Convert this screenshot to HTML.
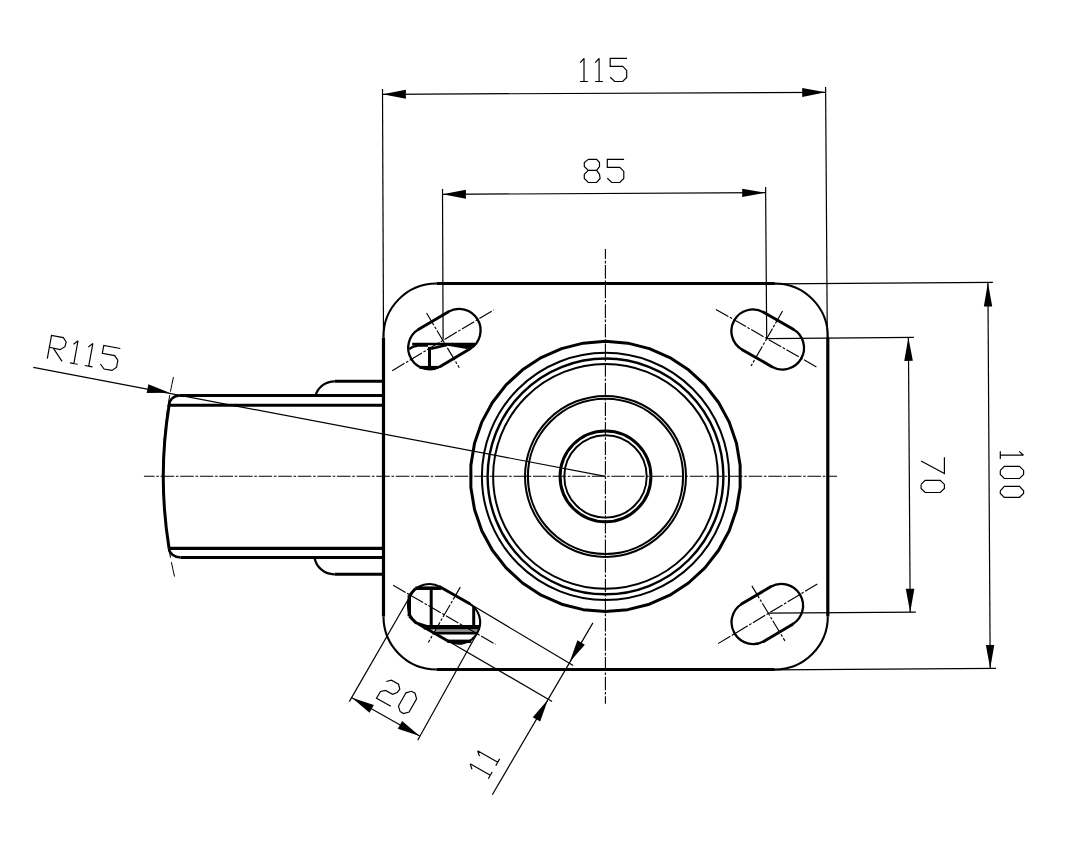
<!DOCTYPE html>
<html><head><meta charset="utf-8"><title>Caster top plate drawing</title>
<style>html,body{margin:0;padding:0;background:#fff;font-family:"Liberation Sans",sans-serif}svg{display:block}</style></head>
<body>
<svg width="1086" height="854" viewBox="0 0 1086 854" fill="none" stroke="#000">
<rect x="0" y="0" width="1086" height="854" fill="#fff" stroke="none"/>
<line x1="436.50" y1="283.50" x2="774.80" y2="283.50" stroke-width="3.2" />
<line x1="436.50" y1="669.50" x2="774.80" y2="669.50" stroke-width="3.2" />
<line x1="383.50" y1="337.50" x2="383.50" y2="616.50" stroke-width="3.2" />
<line x1="827.80" y1="337.50" x2="827.80" y2="616.50" stroke-width="3.2" />
<path d="M383.5,337.5 A53,53 0 0 1 436.5,283.5" stroke-width="2.1" />
<path d="M774.8,283.5 A53,53 0 0 1 827.8,337.5" stroke-width="2.1" />
<path d="M827.8,616.5 A53,53 0 0 1 774.8,669.5" stroke-width="2.1" />
<path d="M436.5,669.5 A53,53 0 0 1 383.5,616.5" stroke-width="2.1" />
<polygon points="740.14,487.56 736.47,509.57 729.22,530.67 718.60,550.29 704.90,567.90 688.48,583.01 669.80,595.22 649.37,604.18 627.74,609.66 605.50,611.50 583.26,609.66 561.63,604.18 541.20,595.22 522.52,583.01 506.10,567.90 492.40,550.29 481.78,530.67 474.53,509.57 470.86,487.56 470.86,465.24 474.53,443.23 481.78,422.13 492.40,402.51 506.10,384.90 522.52,369.79 541.20,357.58 561.63,348.62 583.26,343.14 605.50,341.30 627.74,343.14 649.37,348.62 669.80,357.58 688.48,369.79 704.90,384.90 718.60,402.51 729.22,422.13 736.47,443.23 740.14,465.24" stroke-width="3.0" stroke-linejoin="round"/>
<circle cx="605.5" cy="476.4" r="123.6" stroke-width="2.0"/>
<circle cx="605.5" cy="476.4" r="117.9" stroke-width="2.4"/>
<circle cx="605.5" cy="476.4" r="112.4" stroke-width="2.0"/>
<circle cx="605.5" cy="476.4" r="80.5" stroke-width="2.0"/>
<circle cx="605.5" cy="476.4" r="77.6" stroke-width="2.1"/>
<circle cx="605.5" cy="476.4" r="45.4" stroke-width="3.0"/>
<circle cx="605.5" cy="476.4" r="41.2" stroke-width="1.9"/>
<line x1="143.90" y1="476.30" x2="837.00" y2="476.30" stroke-width="1.1" stroke-dasharray="13.6 1.7 2.6 1.7" stroke-dashoffset="2.9"/>
<line x1="605.40" y1="248.90" x2="605.40" y2="703.70" stroke-width="1.1" stroke-dasharray="13.6 1.7 2.6 1.7" stroke-dashoffset="3.4"/>
<line x1="179.70" y1="395.50" x2="383.50" y2="395.50" stroke-width="3.1" />
<line x1="169.10" y1="405.30" x2="383.50" y2="405.30" stroke-width="3.1" />
<line x1="169.10" y1="548.40" x2="383.50" y2="548.40" stroke-width="3.1" />
<line x1="180.60" y1="557.50" x2="383.50" y2="557.50" stroke-width="3.1" />
<path d="M179.7,395.5 A10.6,9.8 0 0 0 169.1,405.3" stroke-width="2.6" />
<path d="M169.1,548.4 A11.5,9.1 0 0 0 180.6,557.5" stroke-width="2.6" />
<path d="M169.1,405.3 A444,444 0 0 0 169.1,548.4" stroke-width="3.0" />
<path d="M173.47,377 A444,444 0 0 0 174.55,576.6" stroke-width="1.0" stroke-dasharray="15 3.5 12 3.5 132.5 3.5 12 4.5 15"/>
<line x1="334.70" y1="381.30" x2="383.50" y2="381.30" stroke-width="3.1" />
<path d="M334.7,381.3 A20,20 0 0 0 315.5,395.5" stroke-width="2.2" />
<line x1="334.70" y1="574.30" x2="383.50" y2="574.30" stroke-width="3.1" />
<path d="M334.7,574.3 A20,20 0 0 1 314.5,557.5" stroke-width="2.2" />
<line x1="440.67" y1="366.32" x2="470.08" y2="348.86" stroke-width="2.9" stroke-linecap="round"/>
<line x1="418.72" y1="329.34" x2="448.13" y2="311.88" stroke-width="2.9" stroke-linecap="round"/>
<path d="M470.08,348.86 A21.5,21.5 0 0 0 448.13,311.88" stroke-width="2.3" />
<path d="M418.72,329.34 A21.5,21.5 0 0 0 440.67,366.32" stroke-width="2.3" />
<line x1="742.18" y1="349.66" x2="771.85" y2="366.66" stroke-width="2.9" stroke-linecap="round"/>
<line x1="763.55" y1="312.34" x2="793.22" y2="329.34" stroke-width="2.9" stroke-linecap="round"/>
<path d="M771.85,366.66 A21.5,21.5 0 0 0 793.22,329.34" stroke-width="2.3" />
<path d="M763.55,312.34 A21.5,21.5 0 0 0 742.18,349.66" stroke-width="2.3" />
<line x1="764.02" y1="641.18" x2="792.74" y2="624.13" stroke-width="2.9" stroke-linecap="round"/>
<line x1="741.86" y1="603.87" x2="770.58" y2="586.82" stroke-width="2.9" stroke-linecap="round"/>
<path d="M792.74,624.13 A21.7,21.7 0 0 0 770.58,586.82" stroke-width="2.3" />
<path d="M741.86,603.87 A21.7,21.7 0 0 0 764.02,641.18" stroke-width="2.3" />
<line x1="418.84" y1="624.21" x2="447.99" y2="640.91" stroke-width="2.9" stroke-linecap="round"/>
<line x1="440.21" y1="586.89" x2="469.36" y2="603.59" stroke-width="2.9" stroke-linecap="round"/>
<path d="M447.99,640.91 A21.5,21.5 0 0 0 469.36,603.59" stroke-width="2.1" />
<path d="M440.21,586.89 A21.5,21.5 0 0 0 418.84,624.21" stroke-width="2.1" />
<line x1="392.27" y1="370.70" x2="493.53" y2="310.10" stroke-width="1.15" stroke-dasharray="14.3 1.7 2.6 1.7"/>
<line x1="426.52" y1="313.03" x2="459.28" y2="367.77" stroke-width="1.15" stroke-dasharray="14.3 1.7 2.6 1.7"/>
<line x1="715.95" y1="309.38" x2="817.65" y2="367.62" stroke-width="1.15" stroke-dasharray="14.3 1.7 2.6 1.7"/>
<line x1="782.55" y1="310.99" x2="751.05" y2="366.01" stroke-width="1.15" stroke-dasharray="14.3 1.7 2.6 1.7"/>
<line x1="393.20" y1="585.30" x2="495.40" y2="644.30" stroke-width="1.15" stroke-dasharray="14.3 1.7 2.6 1.7"/>
<line x1="460.30" y1="587.09" x2="428.30" y2="642.51" stroke-width="1.15" stroke-dasharray="14.3 1.7 2.6 1.7"/>
<line x1="718.08" y1="643.63" x2="818.72" y2="583.17" stroke-width="1.15" stroke-dasharray="14.3 1.7 2.6 1.7"/>
<line x1="751.87" y1="585.88" x2="784.93" y2="640.92" stroke-width="1.15" stroke-dasharray="14.3 1.7 2.6 1.7"/>
<line x1="412.20" y1="344.00" x2="475.00" y2="344.00" stroke-width="2.6" />
<path d="M409.2,349.0 Q413.0,346.0 418,345.6 L428,345.6" stroke-width="2.5" />
<path d="M431,348.7 L446.5,345.0" stroke-width="2.6" />
<line x1="429.50" y1="346.90" x2="429.50" y2="366.80" stroke-width="3.0" />
<polygon points="446,343 475,343 474.6,345.4 466.8,348.9 446,345.6" fill="#000" stroke="none"/>
<line x1="419.50" y1="367.40" x2="438.50" y2="367.40" stroke-width="3.0" />
<line x1="415.40" y1="588.20" x2="441.30" y2="588.20" stroke-width="3.6" />
<line x1="409.30" y1="595.20" x2="409.30" y2="616.30" stroke-width="3.4" />
<path d="M409.3,595.5 L415.4,588.4" stroke-width="2.6" />
<path d="M409.3,616.3 L415.8,622.8 L430.7,627.7" stroke-width="2.8" />
<line x1="431.20" y1="588.20" x2="431.20" y2="626.00" stroke-width="3.0" />
<line x1="473.70" y1="606.60" x2="473.70" y2="626.40" stroke-width="3.0" />
<line x1="423.70" y1="627.20" x2="479.60" y2="627.20" stroke-width="4.4" />
<line x1="434.20" y1="633.10" x2="477.50" y2="633.10" stroke-width="3.0" />
<line x1="436.00" y1="630.40" x2="478.00" y2="630.40" stroke-width="0.5" />
<line x1="447.40" y1="641.30" x2="471.30" y2="641.30" stroke-width="3.4" />
<line x1="382.50" y1="89.00" x2="383.50" y2="337.00" stroke-width="1.2" />
<line x1="825.60" y1="87.10" x2="827.30" y2="338.00" stroke-width="1.2" />
<line x1="382.50" y1="94.30" x2="825.60" y2="92.30" stroke-width="1.2" />
<polygon points="382.50,94.30 405.92,98.69 405.88,89.69" fill="#000" stroke="none"/>
<polygon points="825.60,92.30 802.18,87.91 802.22,96.91" fill="#000" stroke="none"/>
<path d="M580.00,81.50 L587.80,81.50 M584.00,81.50 L584.00,58.30 M584.00,58.30 L580.20,62.60 M595.10,81.50 L602.90,81.50 M599.10,81.50 L599.10,58.30 M599.10,58.30 L595.30,62.60 M627.00,58.40 L610.20,58.40 L610.20,66.40 L622.70,66.40 L626.70,70.40 L626.70,77.40 L622.70,81.50 L614.70,81.50 L610.20,77.20" stroke-width="1.18" stroke-linejoin="miter" stroke-linecap="butt"/>
<line x1="442.50" y1="189.00" x2="443.10" y2="339.80" stroke-width="1.2" />
<line x1="765.60" y1="187.10" x2="766.70" y2="338.60" stroke-width="1.2" />
<line x1="442.50" y1="194.30" x2="765.60" y2="192.70" stroke-width="1.2" />
<polygon points="442.50,194.30 465.92,198.68 465.88,189.68" fill="#000" stroke="none"/>
<polygon points="765.60,192.70 742.18,188.72 742.22,196.92" fill="#000" stroke="none"/>
<path d="M588.30,159.40 L596.60,159.40 L599.50,162.60 L599.50,166.50 L596.60,170.40 L588.30,170.40 L584.30,166.50 L584.30,162.60 L588.30,159.40 M588.30,170.40 L584.30,174.30 L584.30,178.50 L588.30,182.50 L596.60,182.50 L600.10,178.50 L599.50,174.30 L596.60,170.40 M624.10,159.40 L607.30,159.40 L607.30,167.40 L619.80,167.40 L623.80,171.40 L623.80,178.40 L619.80,182.50 L611.80,182.50 L607.30,178.20" stroke-width="1.18" stroke-linejoin="miter" stroke-linecap="butt"/>
<line x1="774.00" y1="283.90" x2="992.90" y2="282.30" stroke-width="1.2" />
<line x1="774.00" y1="669.80" x2="996.00" y2="668.40" stroke-width="1.2" />
<line x1="987.90" y1="282.50" x2="990.20" y2="668.40" stroke-width="1.2" />
<polygon points="987.90,282.50 983.84,306.52 992.24,306.47" fill="#000" stroke="none"/>
<polygon points="990.20,668.40 994.26,644.98 985.86,645.03" fill="#000" stroke="none"/>
<path d="M1000.30,451.20 L1000.30,459.00 M1000.30,455.20 L1023.50,455.20 M1023.50,455.20 L1019.20,451.40 M1000.30,470.40 L1004.30,466.30 L1019.50,466.30 L1023.60,470.40 L1023.60,474.40 L1019.50,478.50 L1004.30,478.50 L1000.30,474.40 L1000.30,470.40 M1000.30,490.80 L1004.30,486.40 L1019.50,486.40 L1023.60,490.80 L1023.60,493.40 L1019.50,497.30 L1004.30,497.30 L1000.30,493.40 L1000.30,490.80" stroke-width="1.18" stroke-linejoin="miter" stroke-linecap="butt"/>
<line x1="766.70" y1="338.60" x2="913.90" y2="337.40" stroke-width="1.2" />
<line x1="768.00" y1="613.20" x2="915.80" y2="612.20" stroke-width="1.2" />
<line x1="908.40" y1="337.50" x2="910.20" y2="612.20" stroke-width="1.2" />
<polygon points="908.40,337.50 904.25,360.93 912.85,360.87" fill="#000" stroke="none"/>
<polygon points="910.20,612.20 914.35,588.77 905.75,588.83" fill="#000" stroke="none"/>
<path d="M944.40,457.20 L944.40,473.40 L921.10,461.10 M921.10,484.40 L925.10,480.30 L940.30,480.30 L944.40,484.40 L944.40,488.40 L940.30,492.50 L925.10,492.50 L921.10,488.40 L921.10,484.40" stroke-width="1.18" stroke-linejoin="miter" stroke-linecap="butt"/>
<line x1="33.30" y1="367.40" x2="605.50" y2="476.30" stroke-width="1.2" />
<polygon points="169.60,392.84 148.34,384.21 146.66,393.05" fill="#000" stroke="none"/>
<path d="M47.30,358.70 L51.52,335.48 L63.33,337.63 L66.19,342.01 L64.94,346.66 L60.13,349.65 L49.37,347.29 M53.29,348.10 L62.06,361.38 M69.93,362.81 L77.60,364.21 M73.86,363.53 L78.01,340.70 M78.01,340.70 L73.51,344.25 M84.79,365.51 L92.46,366.91 M88.72,366.23 L92.87,343.40 M92.87,343.40 L88.36,346.95 M120.30,348.49 L103.77,345.48 L102.34,353.36 L114.64,355.59 L117.86,360.24 L116.61,367.13 L111.94,370.45 L104.07,369.02 L100.41,363.98" stroke-width="1.18" stroke-linejoin="miter" stroke-linecap="butt"/>
<line x1="410.90" y1="594.80" x2="349.30" y2="701.60" stroke-width="1.2" />
<line x1="477.30" y1="633.00" x2="417.70" y2="740.30" stroke-width="1.2" />
<line x1="351.90" y1="697.80" x2="419.70" y2="736.00" stroke-width="1.2" />
<polygon points="351.90,697.80 369.49,712.82 373.86,705.07" fill="#000" stroke="none"/>
<polygon points="419.70,736.00 402.11,720.98 397.74,728.73" fill="#000" stroke="none"/>
<path d="M386.26,681.55 L391.48,680.25 L398.53,684.24 L399.84,689.23 L397.21,692.46 L392.60,694.32 L385.58,690.47 L380.51,691.51 L376.50,698.20 L390.86,706.32 M400.09,711.54 L398.49,706.04 L405.97,692.81 L411.56,691.27 L415.04,693.24 L416.59,698.82 L409.11,712.05 L403.57,713.51 L400.09,711.54" stroke-width="1.18" stroke-linejoin="miter" stroke-linecap="butt"/>
<line x1="469.36" y1="603.59" x2="573.20" y2="665.50" stroke-width="1.2" />
<line x1="447.99" y1="640.91" x2="552.10" y2="701.40" stroke-width="1.2" />
<line x1="492.30" y1="794.70" x2="592.90" y2="622.90" stroke-width="1.2" />
<polygon points="547.90,699.80 532.77,717.13 540.19,721.48" fill="#000" stroke="none"/>
<polygon points="569.70,662.00 584.83,644.67 577.41,640.32" fill="#000" stroke="none"/>
<path d="M488.30,778.80 L492.16,772.02 M490.28,775.33 L470.13,763.83 M470.13,763.83 L471.98,769.26 M495.78,765.68 L499.65,758.91 M497.76,762.21 L477.61,750.71 M477.61,750.71 L479.46,756.15" stroke-width="1.18" stroke-linejoin="miter" stroke-linecap="butt"/>
</svg>
</body></html>
